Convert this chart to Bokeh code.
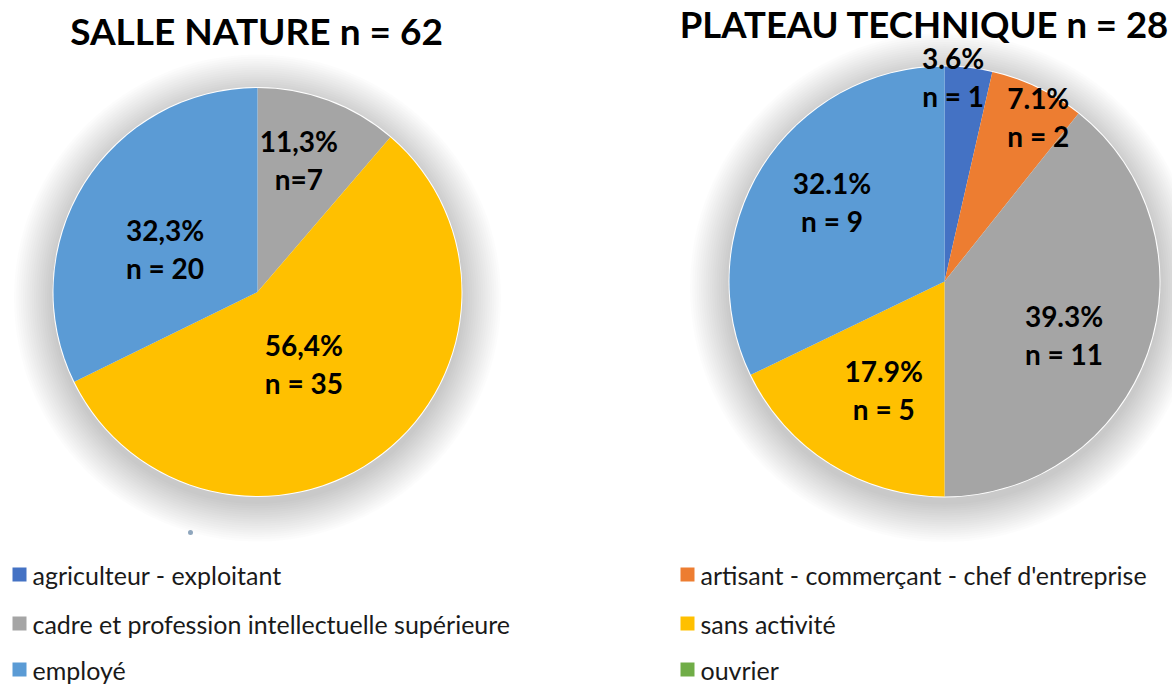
import math
from bokeh.plotting import figure
from bokeh.models import Range1d
from bokeh.core.properties import value
from bokeh.embed import file_html
from bokeh.resources import INLINE

# ---- data ----
categories = ["agriculteur - exploitant",
              "artisant - commerçant - chef d'entreprise",
              "cadre et profession intellectuelle supérieure",
              "sans activité",
              "employé",
              "ouvrier"]
colors = ["#4472C4", "#ED7D31", "#A5A5A5", "#FFC000", "#5B9BD5", "#70AD47"]
salle_counts = [0, 0, 7, 35, 20, 0]
plateau_counts = [1, 2, 11, 5, 9, 0]
salle_pct = ["", "", "11,3%", "56,4%", "32,3%", ""]
salle_n = ["", "", "n=7", "n = 35", "n = 20", ""]
plateau_pct = ["3.6%", "7.1%", "39.3%", "17.9%", "32.1%", ""]
plateau_n = ["n = 1", "n = 2", "n = 11", "n = 5", "n = 9", ""]
titles = ["SALLE NATURE n = 62", "PLATEAU TECHNIQUE n = 28"]

# ---- layout (styles) ----
W, H = 1172, 685
FONT = "Lato"
def Y(sy):  # picture y -> data y
    return H - sy

p = figure(width=W, height=H, output_backend="svg", toolbar_location=None,
           x_range=Range1d(0, W), y_range=Range1d(0, H),
           min_border=0)
p.axis.visible = False
p.grid.visible = False
p.outline_line_color = None
p.background_fill_color = "white"

pies = [
    dict(counts=salle_counts, pct=salle_pct, nlab=salle_n, cx=257, cy=291.5, r=204,
         lab_r=[0, 0, 0.68, 0.42, 0.50, 0], lab_da=[0, 0, -3, 5, -7, 0],
         title_x=256, title_y=30, title_size="37px"),
    dict(counts=plateau_counts, pct=plateau_pct, nlab=plateau_n, cx=944, cy=281, r=215,
         lab_r=[0.95, 0.88, 0.61, 0.58, 0.64, 0], lab_da=[-4, 4, 5, -3, 3, 0],
         title_x=924, title_y=23, title_size="36.5px"),
]

for pie in pies:
    cx, cy, r = pie["cx"], Y(pie["cy"]), pie["r"]
    # soft shadow
    for k in range(18):
        p.circle(x=cx, y=cy - 6, radius=r + 2.2 * (k + 1), fill_color="#000000",
                 fill_alpha=0.011, line_color=None)
    p.circle(x=cx, y=cy, radius=r + 1, fill_color="white", line_color=None)
    total = sum(pie["counts"])
    cum = 0
    labels = []
    for i, c in enumerate(pie["counts"]):
        if c == 0:
            continue
        a0 = math.pi / 2 - 2 * math.pi * cum / total
        a1 = math.pi / 2 - 2 * math.pi * (cum + c) / total
        p.wedge(x=cx, y=cy, radius=r, start_angle=a0, end_angle=a1,
                direction="clock", fill_color=colors[i], line_color=None)
        mid = (cum + c / 2) / total * 360 + pie["lab_da"][i]
        th = math.radians(90 - mid)
        lx = cx + pie["lab_r"][i] * r * math.cos(th)
        ly = cy + pie["lab_r"][i] * r * math.sin(th)
        labels.append((lx, ly, pie["pct"][i], pie["nlab"][i]))
        cum += c
    pie["labels"] = labels

for pie in pies:
    for lx, ly, pct, nl in pie["labels"]:
        p.text(x=[lx], y=[ly + 19], text=[pct], text_align="center",
               text_baseline="middle", text_font=value(FONT), text_font_style="bold",
               text_font_size="28px", text_color="black")
        p.text(x=[lx], y=[ly - 19], text=[nl], text_align="center",
               text_baseline="middle", text_font=value(FONT), text_font_style="bold",
               text_font_size="28px", text_color="black")

for pie, t in zip(pies, titles):
    p.text(x=[pie["title_x"]], y=[Y(pie["title_y"])], text=[t], text_align="center",
           text_baseline="middle", text_font=value(FONT), text_font_style="bold",
           text_font_size=pie["title_size"], text_color="black")

# tiny artefact dot
p.circle(x=190, y=Y(532), radius=2.5, fill_color="#8fa6bd", line_color=None)

# ---- legend ----
col_x = [19, 687]
row_y = [574, 623, 669]
for i, (cat, col) in enumerate(zip(categories, colors)):
    cxl = col_x[i % 2]
    ry = Y(row_y[i // 2])
    p.rect(x=cxl, y=ry, width=14, height=14, fill_color=col, line_color=None)
    p.text(x=[cxl + 13], y=[ry], text=[cat], text_align="left", text_baseline="middle",
           text_font=value(FONT), text_font_size="25px", text_color="#1a1a1a")

open("out.html", "w").write(file_html(p, INLINE))
